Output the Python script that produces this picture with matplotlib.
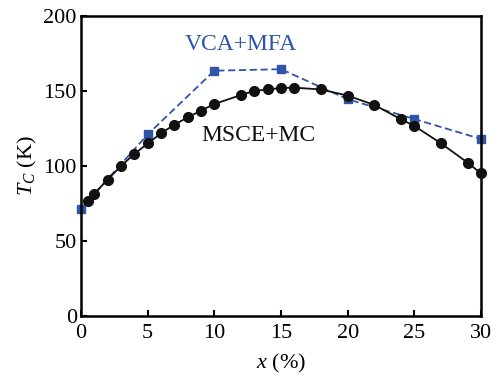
import numpy as np
import matplotlib
matplotlib.use('Agg')
import matplotlib.pyplot as plt
from matplotlib import rc

rc('font', **{'family': 'Liberation Serif', 'size': 16})
rc('mathtext', **{'fontset': 'custom', 'rm': 'Liberation Serif',
                  'it': 'Liberation Serif:italic'})
rc(('xtick', 'ytick'), **{'direction': 'in', 'major.size': 4,
                          'major.width': 1.5, 'labelsize': 16})

# MSCE+MC (black circles)
x_msce = [0.5, 1, 2, 3, 4, 5, 6, 7, 8, 9, 10, 12, 13, 14, 15, 16, 18, 20,
          22, 24, 25, 27, 29, 30]
tc_msce = [77, 81.5, 91, 100, 108, 115, 121.8, 127.5, 132.4, 136.9, 141.3,
           147.3, 150, 151, 152, 152.2, 151, 146.9, 140.7, 131.1, 126.7,
           115.1, 102.2, 95.1]

# VCA+MFA (blue squares)
x_vca = [0, 5, 10, 15, 20, 25, 30]
tc_vca = [71.5, 121, 163.5, 164.5, 144.5, 131.3, 118]

blue = '#2F55A8'

fig = plt.figure(figsize=(5, 3.79), dpi=100)
ax = fig.add_axes([0.162, 0.166, 0.8, 0.792])
ax.plot(x_vca, tc_vca, '--s', color=blue, ms=6, lw=1.3, dashes=(4, 2),
        clip_on=False, zorder=2)
ax.plot(x_msce, tc_msce, '-o', color='#111111', ms=7, lw=1.3,
        clip_on=False, zorder=3)

ax.set_xlim(0, 30)
ax.set_ylim(0, 200)
ax.set_xticks([0, 5, 10, 15, 20, 25, 30])
ax.set_yticks([0, 50, 100, 150, 200])
for s in ax.spines.values():
    s.set_linewidth(1.8)
ax.tick_params(top=False, right=False)
ax.tick_params(axis='x', pad=6)
ax.tick_params(axis='y', pad=3)

ax.set_xlabel('$\\mathit{x}$ (%)', labelpad=6)
ax.set_ylabel('$\\mathit{T}_{\\mathit{C}}$ (K)', labelpad=3)

fig.text(241 / 500, 1 - 45 / 379, 'VCA+MFA', color=blue, fontsize=17,
         ha='center', va='center')
fig.text(258 / 500, 1 - 136 / 379, 'MSCE+MC', color='#111111', fontsize=17,
         ha='center', va='center')

fig.savefig('out.png', dpi=100)
